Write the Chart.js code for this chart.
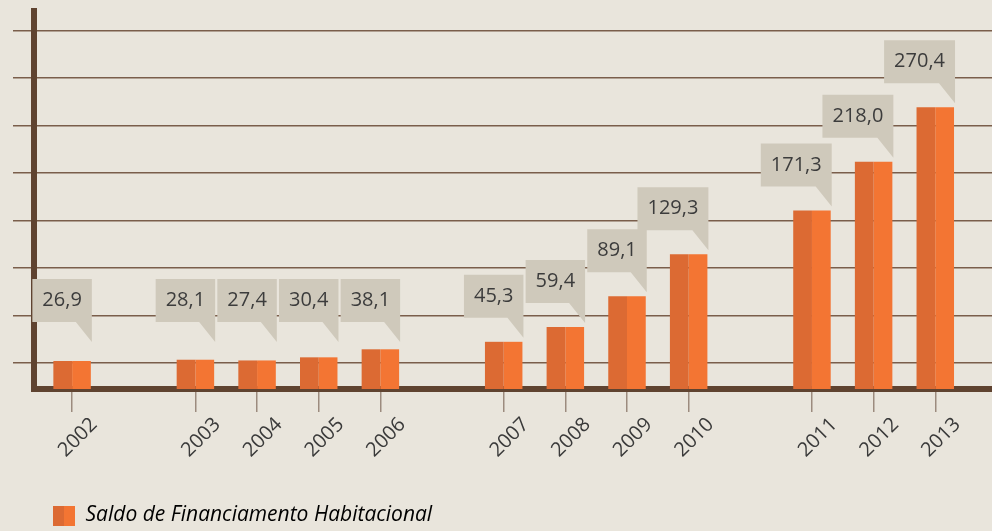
<!DOCTYPE html>
<html>
<head>
<meta charset="utf-8">
<script src="https://cdn.jsdelivr.net/npm/chart.js@4.4.1/dist/chart.umd.min.js"></script>
<style>
  body { margin: 0; background: #e9e5dc; }
  #wrap { width: 992px; height: 531px; }
</style>
</head>
<body>
<div id="wrap"><canvas id="saldoChart" width="992" height="531"></canvas></div>
<script>
// slots of the x axis, '' = empty gap between year groups
var slots = ['2002', '', '2003', '2004', '2005', '2006', '', '2007', '2008', '2009', '2010', '', '2011', '2012', '2013'];
var saldo = [26.9, null, 28.1, 27.4, 30.4, 38.1, null, 45.3, 59.4, 89.1, 129.3, null, 171.3, 218.0, 270.4];
var seriesName = 'Saldo de Financiamento Habitacional';
// decorative horizontal rules of the original
var gridValues = [25.2, 70.7, 116.2, 161.8, 207.3, 252.8, 298.3, 343.9];

var darkOrange = '#dc6a33';
var lightOrange = '#f37533';

var points = [];
for (let i = 0; i < slots.length; i++) {
    if (saldo[i] !== null) points.push({x: i, y: saldo[i]});
}
var tickSlots = points.map(p => p.x);

// two-tone legend swatch
var swatch = document.createElement('canvas');
swatch.width = 22;
swatch.height = 20;
var sctx = swatch.getContext('2d');
sctx.fillStyle = darkOrange;
sctx.fillRect(0, 0, 11, 20);
sctx.fillStyle = lightOrange;
sctx.fillRect(11, 0, 11, 20);

function fmt(v) {
    return v.toFixed(1).replace('.', ',');
}

// grey speech-bubble value labels
var calloutPlugin = {
    id: 'callouts',
    afterDraw(chart) {
        const ctx = chart.ctx;
        const meta = chart.getDatasetMeta(1);
        const floor = chart.chartArea.bottom - 110;
        ctx.save();
        ctx.font = '20px "Open Sans"';
        ctx.textAlign = 'center';
        ctx.textBaseline = 'middle';
        meta.data.forEach((bar, i) => {
            const txt = fmt(points[i].y);
            const w = ctx.measureText(txt).width + 20;
            const h = 43;
            const right = bar.x + bar.width / 2 + 1;
            let bottom = bar.y - 4 - 20;
            if (bottom - h > floor) bottom = floor + h;
            const left = right - w;
            const top = bottom - h;
            ctx.fillStyle = '#cfc9bb';
            ctx.beginPath();
            ctx.moveTo(left, top);
            ctx.lineTo(right, top);
            ctx.lineTo(right, bottom + 20);
            ctx.lineTo(right - 16, bottom);
            ctx.lineTo(left, bottom);
            ctx.closePath();
            ctx.fill();
            ctx.fillStyle = '#3c3c3c';
            ctx.fillText(txt, left + w / 2, top + h / 2);
        });
        ctx.restore();
    }
};

var ctx = document.getElementById('saldoChart').getContext('2d');

var saldoChart = new Chart(ctx, {
    type: 'bar',
    data: {
        datasets: [{
            label: seriesName,
            data: points,
            backgroundColor: darkOrange,
            barPercentage: 1,
            categoryPercentage: 0.608
        }, {
            label: seriesName,
            data: points,
            backgroundColor: lightOrange,
            barPercentage: 1,
            categoryPercentage: 0.608
        }]
    },
    options: {
        responsive: false,
        animation: false,
        layout: {
            padding: {left: 13, top: 11, right: 0, bottom: 0}
        },
        scales: {
            x: {
                type: 'linear',
                min: -0.618,
                max: 14.92,
                offset: false,
                z: 1,
                afterBuildTicks: (s) => {
                    s.ticks = tickSlots.map(v => ({value: v}));
                },
                afterFit: (s) => {
                    s.height = 97;
                },
                grid: {
                    offset: false,
                    drawOnChartArea: false,
                    drawTicks: true,
                    tickLength: 23,
                    color: '#9c8b7e',
                    lineWidth: 1.5
                },
                border: {
                    display: true,
                    width: 6,
                    color: '#5f4330'
                },
                ticks: {
                    autoSkip: false,
                    minRotation: 45,
                    maxRotation: 45,
                    padding: 1,
                    labelOffset: 22,
                    color: '#3a3a3a',
                    font: {family: '"Open Sans"', size: 20},
                    callback: (value) => slots[value]
                }
            },
            y: {
                min: 0,
                max: 362.8,
                afterBuildTicks: (s) => {
                    s.ticks = gridValues.map(v => ({value: v}));
                },
                grid: {
                    color: '#7a5e4b',
                    lineWidth: 1.5,
                    tickLength: 21
                },
                border: {
                    display: true,
                    width: 6,
                    color: '#5f4330'
                },
                ticks: {
                    display: false
                }
            }
        },
        plugins: {
            tooltip: {enabled: false},
            legend: {
                position: 'bottom',
                align: 'start',
                fullSize: false,
                maxHeight: 45,
                labels: {
                    usePointStyle: true,
                    pointStyleWidth: 22,
                    padding: 19,
                    color: '#404040',
                    font: {family: '"Open Sans"', size: 21, style: 'italic'},
                    generateLabels: () => [{
                        text: seriesName,
                        pointStyle: swatch,
                        fillStyle: lightOrange,
                        strokeStyle: 'transparent',
                        lineWidth: 0,
                        datasetIndex: 0
                    }]
                }
            }
        }
    },
    plugins: [calloutPlugin]
});
</script>
</body>
</html>
